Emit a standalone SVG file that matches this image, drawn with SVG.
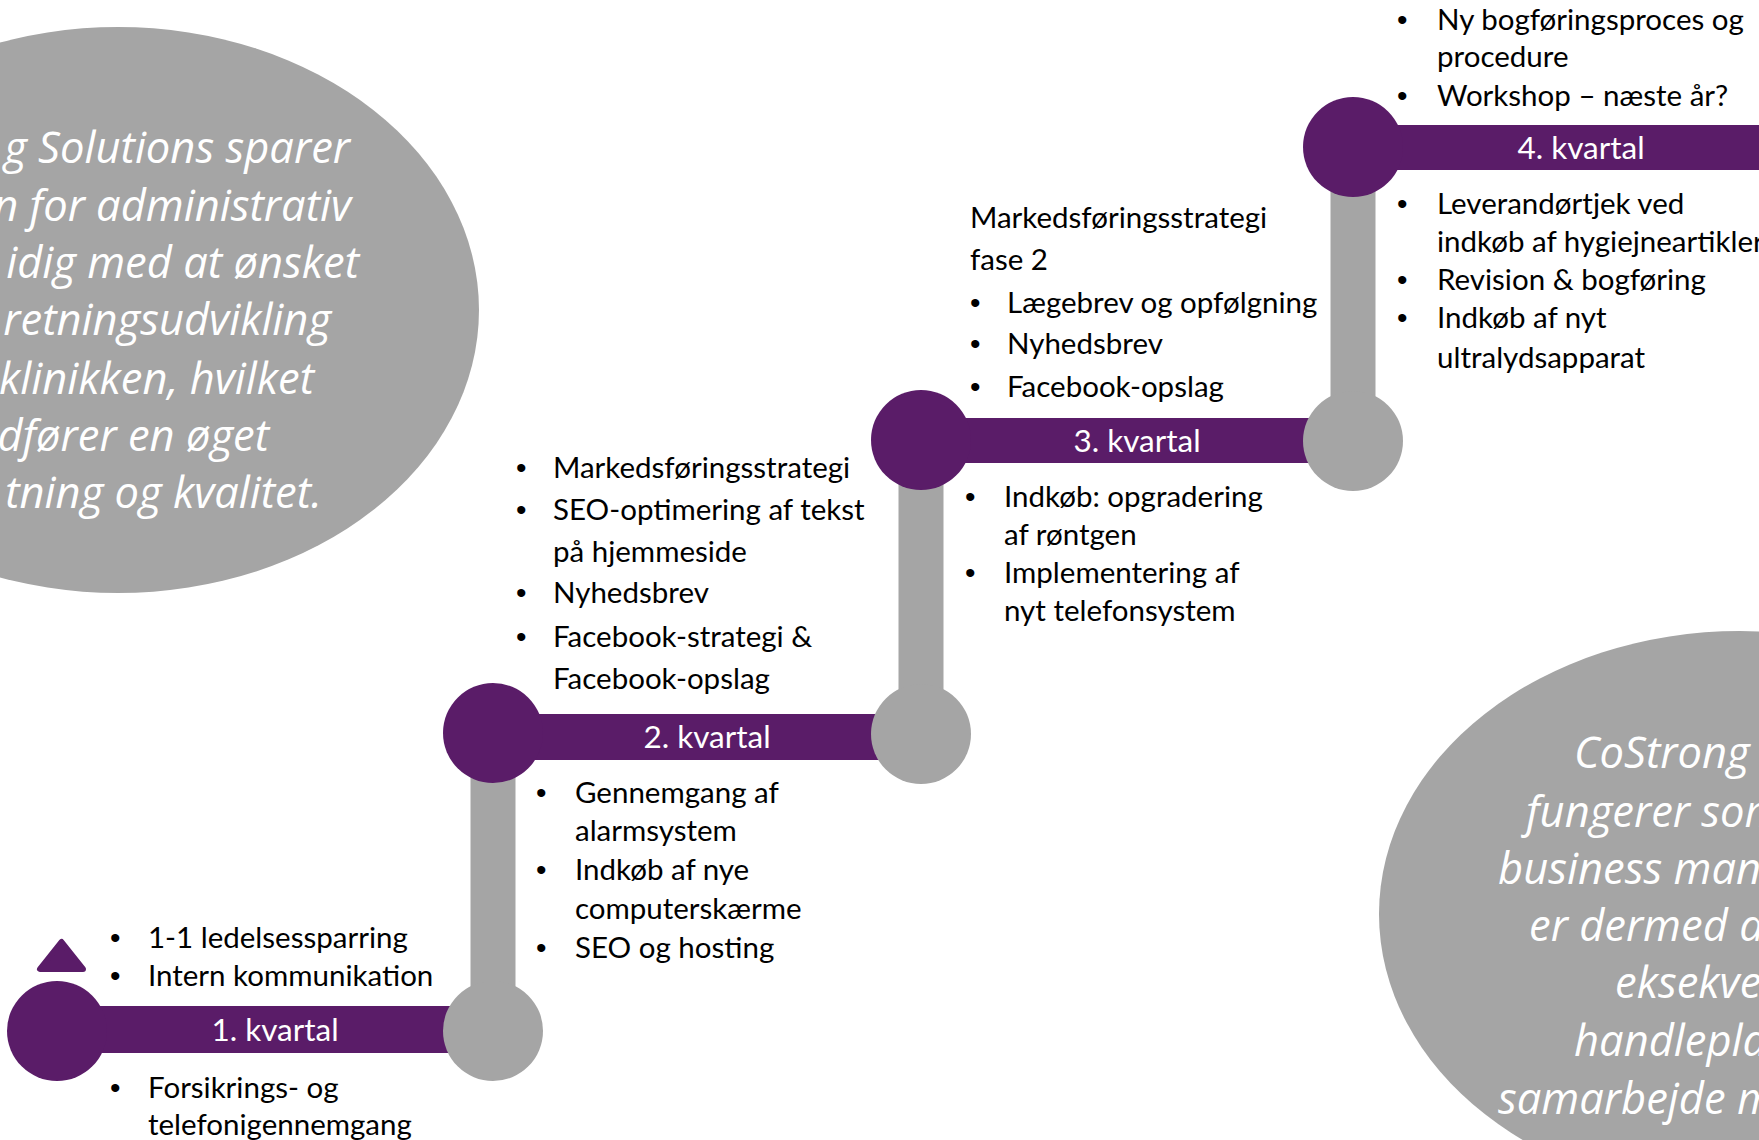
<svg xmlns="http://www.w3.org/2000/svg" width="1759" height="1140" viewBox="0 0 1759 1140">
<style>
.ell{fill:#A5A5A5}
.et{font-family:"Open Sans","Noto Sans",sans-serif;font-style:italic;font-size:43.5px;fill:#fff}
.pc{fill:#5A1C68}
.gc{fill:#A5A5A5}
.lbl{font-family:Lato,"Liberation Sans",sans-serif;font-size:31.5px;fill:#fff;text-anchor:middle}
.t{font-family:Lato,"Liberation Sans",sans-serif;font-size:29.5px;fill:#000}
.b{font-family:"Liberation Sans",sans-serif;font-size:30px;fill:#000}
</style>
<rect width="1759" height="1140" fill="#fff"/>

<g id="ellipse-left">
<ellipse class="ell" cx="118" cy="310" rx="361" ry="283"/>
<g class="et" text-anchor="end">
<text x="350" y="163">g Solutions sparer</text>
<text x="351" y="221">n for administrativ</text>
<text x="359" y="278">idig med at ønsket</text>
<text x="331" y="335">retningsudvikling</text>
<text x="314" y="394">klinikken, hvilket</text>
<text x="269" y="451">dfører en øget</text>
<text x="322" y="508">tning og kvalitet.</text>
</g>
</g>

<g id="ellipse-right">
<ellipse class="ell" cx="1740" cy="914" rx="361" ry="283"/>
<g class="et">
<text x="1574" y="768">CoStrong</text>
<text x="1526" y="827">fungerer som</text>
<text x="1498" y="884">business man</text>
<text x="1529" y="941">er dermed a</text>
<text x="1615" y="998">eksekve</text>
<text x="1574" y="1056">handlepla</text>
<text x="1498" y="1114">samarbejde m</text>
</g>
</g>

<g id="connectors">
<rect class="gc" x="470.5" y="733" width="45" height="298"/>
<rect class="gc" x="898.5" y="440" width="45" height="293"/>
<rect class="gc" x="1330.5" y="147" width="45" height="293"/>
</g>

<g id="start-marker">
<polygon points="61.5,942 40,969 83,969" fill="#5A1C68" stroke="#5A1C68" stroke-width="6" stroke-linejoin="round"/>
</g>

<g id="q1">
<rect class="pc" x="57" y="1006" width="436" height="47"/>
<circle class="pc" cx="57" cy="1031" r="50"/>
<circle class="gc" cx="493" cy="1031" r="50"/>
<text class="lbl" x="275" y="1041">1. kvartal</text>
<text class="b" x="110" y="948">•</text><text class="t" x="148" y="948">1-1 ledelsessparring</text>
<text class="b" x="110" y="986">•</text><text class="t" x="148" y="986">Intern kommunikation</text>
<text class="b" x="110" y="1098">•</text><text class="t" x="148" y="1098">Forsikrings- og</text>
<text class="t" x="148" y="1135">telefonigennemgang</text>
</g>

<g id="q2">
<rect class="pc" x="493" y="714" width="428" height="46"/>
<circle class="pc" cx="493" cy="733" r="50"/>
<circle class="gc" cx="921" cy="734" r="50"/>
<text class="lbl" x="707" y="748">2. kvartal</text>
<text class="b" x="516" y="478">•</text><text class="t" x="553" y="478">Markedsføringsstrategi</text>
<text class="b" x="516" y="520">•</text><text class="t" x="553" y="520">SEO-optimering af tekst</text>
<text class="t" x="553" y="562">på hjemmeside</text>
<text class="b" x="516" y="603">•</text><text class="t" x="553" y="603">Nyhedsbrev</text>
<text class="b" x="516" y="647">•</text><text class="t" x="553" y="647">Facebook-strategi &amp;</text>
<text class="t" x="553" y="689">Facebook-opslag</text>
<text class="b" x="536" y="803">•</text><text class="t" x="575" y="803">Gennemgang af</text>
<text class="t" x="575" y="841">alarmsystem</text>
<text class="b" x="536" y="880">•</text><text class="t" x="575" y="880">Indkøb af nye</text>
<text class="t" x="575" y="919">computerskærme</text>
<text class="b" x="536" y="958">•</text><text class="t" x="575" y="958">SEO og hosting</text>
</g>

<g id="q3">
<rect class="pc" x="921" y="418" width="432" height="45"/>
<circle class="pc" cx="921" cy="440" r="50"/>
<circle class="gc" cx="1353" cy="441" r="50"/>
<text class="lbl" x="1137" y="452">3. kvartal</text>
<text class="t" x="970" y="228">Markedsføringsstrategi</text>
<text class="t" x="970" y="270">fase 2</text>
<text class="b" x="970" y="313">•</text><text class="t" x="1007" y="313">Lægebrev og opfølgning</text>
<text class="b" x="970" y="354">•</text><text class="t" x="1007" y="354">Nyhedsbrev</text>
<text class="b" x="970" y="397">•</text><text class="t" x="1007" y="397">Facebook-opslag</text>
<text class="b" x="965" y="507">•</text><text class="t" x="1004" y="507">Indkøb: opgradering</text>
<text class="t" x="1004" y="545">af røntgen</text>
<text class="b" x="965" y="583">•</text><text class="t" x="1004" y="583">Implementering af</text>
<text class="t" x="1004" y="621">nyt telefonsystem</text>
</g>

<g id="q4">
<rect class="pc" x="1353" y="125" width="406" height="45"/>
<circle class="pc" cx="1353" cy="147" r="50"/>
<text class="lbl" x="1581" y="159">4. kvartal</text>
<text class="b" x="1397" y="30">•</text><text class="t" x="1437" y="30">Ny bogføringsproces og</text>
<text class="t" x="1437" y="67">procedure</text>
<text class="b" x="1397" y="106">•</text><text class="t" x="1437" y="106">Workshop – næste år?</text>
<text class="b" x="1397" y="214">•</text><text class="t" x="1437" y="214">Leverandørtjek ved</text>
<text class="t" x="1437" y="252">indkøb af hygiejneartikler</text>
<text class="b" x="1397" y="290">•</text><text class="t" x="1437" y="290">Revision &amp; bogføring</text>
<text class="b" x="1397" y="328">•</text><text class="t" x="1437" y="328">Indkøb af nyt</text>
<text class="t" x="1437" y="368">ultralydsapparat</text>
</g>
</svg>
